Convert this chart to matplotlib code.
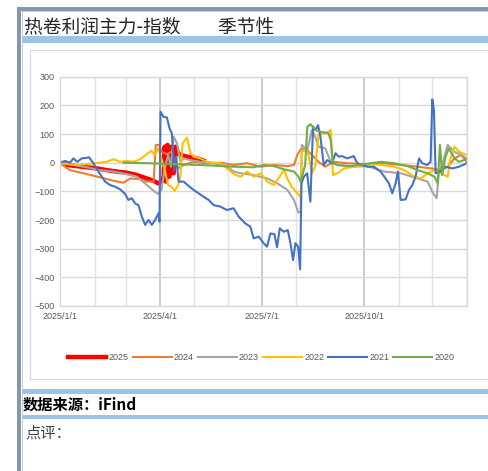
import matplotlib.pyplot as plt
import matplotlib.dates as mdates
from matplotlib.patches import Rectangle
import pandas as pd

# 各年份数据: 距1月1日的天数, 利润值
d2025 = [0, 6, 15, 24, 33, 42, 51, 60, 69, 78, 84, 88, 91, 93, 94, 95, 96.5, 98, 100, 102, 104, 106, 108, 114, 120, 126, 129]
v2025 = [0, -8, -12, -16, -20, -26, -31, -35, -43, -55, -63, -72, -66, -49, 56, -66, 62, -49, 56, -37, 56, 33, 27, 21, 17, 12, 7]

d2024 = [0, 9, 21, 36, 48, 57, 63, 72, 78, 84, 86, 89, 91, 96, 100, 103, 106, 111, 120, 132, 144, 156, 168, 180, 192, 204,
         210, 213, 216, 220, 226, 232, 238, 246, 258, 276, 291, 306, 321, 333, 342, 348, 354, 360, 365]
v2024 = [-2, -26, -37, -51, -63, -70, -55, -58, -66, -66, 62, 62, 38, 30, 38, 3, -20, -8, 3, -2, 0, -8, -2, -14, -8, -12,
         -8, 27, 47, 50, 27, 3, -14, 3, -2, -5, -2, -8, -14, -20, -26, -14, 15, 27, 3]

d2023 = [0, 12, 24, 36, 48, 60, 69, 78, 84, 88, 91, 94, 97, 99.5, 102, 105, 108, 111, 117, 126, 138, 150, 156, 162, 174, 186,
         195, 204, 210, 214, 216, 217, 222, 226, 229, 232, 238, 243, 249, 261, 276, 291, 306, 321, 330, 334, 338, 340, 343,
         348, 354, 360, 365]
v2023 = [0, -8, -16, -26, -31, -40, -49, -78, -98, -109, -95, -20, 27, -14, 91, 67, 3, 15, 9, 3, -2, -14, -31, -37, -43, -55,
         -72, -95, -130, -174, -171, 62, 44, 114, 91, 56, 50, 3, -8, -14, -12, -31, -37, -55, -66, -101, -124, -37, -8,
         62, 38, 27, 15]

d2022 = [0, 15, 24, 36, 42, 48, 54, 60, 66, 72, 78, 82, 85, 88, 91, 94, 97, 100, 103, 106, 108, 110, 114, 117, 120, 126,
         132, 138, 144, 150, 156, 162, 168, 174, 180, 186, 192, 196, 201, 204, 208, 213, 216, 217, 220, 223, 226, 229, 232,
         236, 241, 243, 245, 249, 255, 264, 276, 288, 300, 309, 318, 324, 330, 336, 342, 348, 350, 354, 358, 365]
v2022 = [-2, -8, -5, 0, 3, 12, 3, 6, 3, 12, 30, 42, 27, 50, 15, -26, -78, -84, -98, -78, -49, 67, 88, 33, 21, 15,
         3, 0, -2, -20, -40, -49, -31, -49, -37, -66, -78, -55, -26, -55, -84, -107, -119, 38, 44, 27, -37, -14, 97,
         102, 108, 114, -43, -37, -20, -14, -5, -8, -14, -26, -49, -55, -37, -26, -37, -49, 9, 56, 38, 27]

d2021 = [0, 4.5, 9, 12, 15.6, 19.5, 24, 26, 30, 34.5, 40.5, 45, 49.5, 54, 58.4, 61.4, 64.4, 67.4, 70.4, 73.4, 76.4, 79.4,
         82.4, 85.4, 88.4, 89.3, 90.2, 92.9, 95.9, 98.3, 100.4, 102.5, 104.3, 106.4, 110.9, 115.4, 119.9, 124.4, 128.9,
         133.4, 137.8, 143.8, 149.8, 155.8, 160.3, 166.3, 170.8, 173.8, 178.3, 182.8, 185.8, 188.8, 192.4, 194.8, 197.2,
         200.8, 204.4, 206.8, 209.2, 211.3, 213.7, 215.5, 216.7, 218.8, 221.8, 224.7, 227.1, 229.2, 231.6, 233.7, 236.7,
         239.7, 244.2, 247.2, 250.2, 253.2, 257.7, 263.7, 266.7, 271.2, 275.7, 281.7, 287.7, 292.2, 295.2, 298.2, 301.2,
         303.3, 305.7, 310.2, 313.2, 316.2, 319.1, 322.2, 325.1, 329.6, 332.6, 334.1, 335.6, 337.1, 341, 346.1, 352.1,
         358.1, 365]
v2021 = [0, 6, 0, 15, 3, 15, 17, 19, -2, -31, -66, -78, -84, -93, -109, -130, -124, -142, -148, -188, -217, -200,
         -217, -200, -177, -206, 178, 160, 158, 120, 102, -26, 21, -66, -66, -81, -95, -107, -119,
         -130, -148, -153, -165, -159, -188, -212, -223, -264, -258, -281, -293, -247, -249, -295, -229,
         -241, -235, -281, -340, -281, -293, -372, -72, -49, -37, -136, 126, 114, 131, 91, -8,
         9, -2, 33, 21, 23, 15, 23, -2, -8, -14, -14, -31, -55, -72, -107, -72,
         -31, -130, -128, -95, -78, -49, 15, -2, -8, 3, 221, 184, -37, -31, -14, -20,
         -14, -2]

d2020 = [57, 81, 102, 126, 156, 174, 183, 192, 201, 210, 214, 216, 218, 220, 222, 225, 229, 234, 241, 243, 245, 249, 261,
         273, 288, 300, 312, 321, 330, 336, 339, 341, 343, 346, 349, 354, 358, 365]
v2020 = [0, -2, -5, -8, -14, -16, -8, -12, -23, -31, -49, -66, -37, -8, 126, 134, 114, 108, 102, 79, -2, -8, -12,
         -5, 3, -2, -12, -26, -37, -49, -72, 62, -43, 21, 50, 15, 3, 12]

series = [
    ("2025", d2025, v2025, "#FF0000", 3.2),
    ("2024", d2024, v2024, "#ED7D31", 1.5),
    ("2023", d2023, v2023, "#A5A5A5", 1.5),
    ("2022", d2022, v2022, "#FFC000", 1.5),
    ("2021", d2021, v2021, "#4472C4", 1.5),
    ("2020", d2020, v2020, "#70AD47", 1.5),
]

tick_dates = ["2025-01-01", "2025-04-01", "2025-07-01", "2025-10-01"]
tick_labels = ["2025/1/1", "2025/4/1", "2025/7/1", "2025/10/1"]

W, H = 489, 471
start = pd.Timestamp("2025-01-01")

fig = plt.figure(figsize=(W / 100, H / 100), dpi=100)


def fx(px):
    return px / W


def fy(py):
    return 1 - py / H


def box(x0, y0, x1, y1, face, edge="none", lw=0):
    fig.add_artist(Rectangle((fx(x0), fy(y1)), fx(x1) - fx(x0), fy(y0) - fy(y1),
                             transform=fig.transFigure, facecolor=face,
                             edgecolor=edge, linewidth=lw, zorder=-5))


# 文档边框
box(17, 7, 489, 10.5, "#8497B0")
box(17, 7, 21, 471, "#8497B0")
box(22, 11.5, 489, 12.2, "#C8CCD2")
box(22, 11.5, 22.8, 471, "#C8CCD2")
box(22.8, 36, 489, 42.5, "#9DC3E6")
box(30, 50, 495, 379, "white", "#D9D9D9", 0.8)
box(22.8, 389, 489, 394, "#9DC3E6")
box(22.8, 414.5, 489, 419, "#9DC3E6")

cjk = ["Noto Sans CJK SC", "DejaVu Sans"]
fig.text(fx(24), fy(27), "热卷利润主力-指数　　季节性", fontsize=13.5, va="center",
         family=cjk, color="#262626")
fig.text(fx(23), fy(405), "数据来源：iFind", fontsize=11, va="center",
         family=cjk, fontweight="bold", color="black")
fig.text(fx(25), fy(433), "点评：", fontsize=11, va="center",
         family=cjk, color="#404040")

ax = fig.add_axes([fx(60), fy(306), fx(466.7) - fx(60), fy(76.7) - fy(306)])
ax.set_zorder(2)

for name, d, v, c, lw in series:
    dates = start + pd.to_timedelta(d, unit="D")
    ax.plot(dates, v, color=c, lw=lw, label=name)

ax.set_xlim(start, pd.Timestamp("2026-01-01"))
ax.set_ylim(-500, 300)
ax.set_yticks(range(-500, 301, 100))
ax.set_xticks(pd.to_datetime(tick_dates))
ax.set_xticklabels(tick_labels)
ax.xaxis.set_minor_locator(mdates.MonthLocator(bymonth=[1, 2, 3, 5, 6, 8, 11, 12]))

ax.grid(axis="y", color="#D9D9D9", lw=1)
ax.grid(axis="x", which="major", color="#C8C8C8", lw=1.3)
ax.grid(axis="x", which="minor", color="#E3E3E3", lw=1)
ax.set_axisbelow(True)
for s in ax.spines.values():
    s.set_color("#D9D9D9")
    s.set_linewidth(1)
ax.tick_params(length=0, which="both", labelsize=6.5, colors="#595959", pad=4)
for lab in ax.get_xticklabels() + ax.get_yticklabels():
    lab.set_family("Liberation Sans")

leg = fig.legend(loc="center", bbox_to_anchor=(fx(261), fy(358)), ncol=6, frameon=False,
                 handlelength=4.3, handletextpad=0.25, columnspacing=0.45,
                 prop={"family": "Liberation Sans", "size": 6.5})
for t in leg.get_texts():
    t.set_color("#595959")

fig.savefig("out.png", dpi=100)
